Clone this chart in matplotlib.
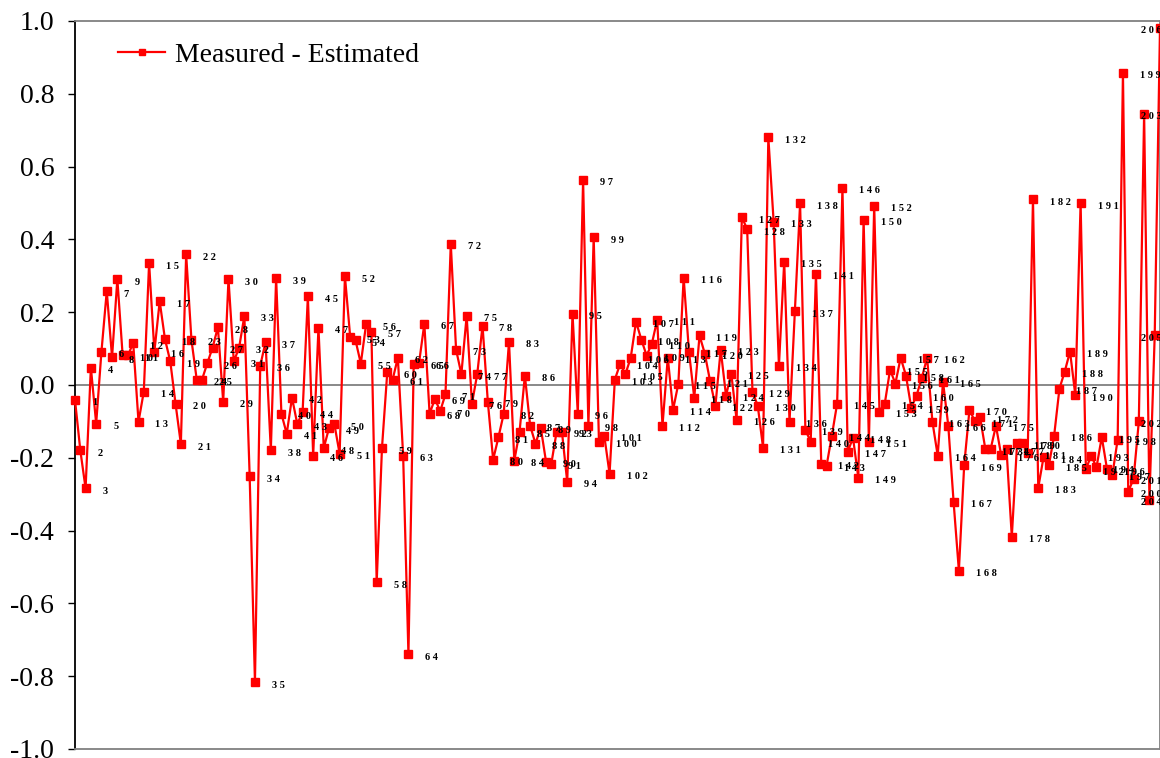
import matplotlib
matplotlib.use("Agg")
import matplotlib.pyplot as plt
import numpy as np

plt.rcParams['font.family'] = ['Liberation Serif', 'DejaVu Serif']
plt.rcParams['axes.unicode_minus'] = False

# residuals per sample (measured minus estimated), samples numbered from 1
residual = [
    -0.041, -0.179, -0.284, 0.048, -0.106, 0.092, 0.258, 0.076, 0.291, 0.082,
    0.082, 0.115, -0.101, -0.018, 0.335, 0.092, 0.230, 0.126, 0.065, -0.052,
    -0.162, 0.359, 0.124, 0.015, 0.015, 0.060, 0.103, 0.159, -0.046, 0.291,
    0.065, 0.102, 0.190, -0.250, -0.816, 0.053, 0.118, -0.179, 0.294, -0.079,
    -0.134, -0.035, -0.107, -0.075, 0.244, -0.194, 0.157, -0.173, -0.118, -0.107,
    -0.189, 0.299, 0.131, 0.123, 0.059, 0.167, 0.146, -0.542, -0.173, 0.035,
    0.014, 0.075, -0.194, -0.740, 0.058, 0.060, 0.168, -0.079, -0.038, -0.072,
    -0.025, 0.388, 0.097, 0.030, 0.190, -0.051, 0.030, 0.163, -0.046, -0.205,
    -0.144, -0.079, 0.119, -0.208, -0.128, 0.026, -0.112, -0.161, -0.117, -0.211,
    -0.216, -0.128, -0.128, -0.266, 0.196, -0.079, 0.564, -0.112, 0.406, -0.156,
    -0.139, -0.244, 0.015, 0.058, 0.030, 0.075, 0.174, 0.125, 0.081, 0.114,
    0.179, -0.112, 0.075, -0.068, 0.004, 0.295, 0.092, -0.035, 0.136, 0.086,
    0.010, -0.057, 0.097, -0.029, 0.031, -0.095, 0.461, 0.428, -0.018, -0.057,
    -0.172, 0.680, 0.449, 0.053, 0.339, -0.101, 0.202, 0.499, -0.123, -0.156,
    0.306, -0.216, -0.222, -0.139, -0.051, 0.542, -0.183, -0.145, -0.255, 0.454,
    -0.156, 0.493, -0.073, -0.051, 0.042, 0.004, 0.075, 0.026, -0.062, -0.029,
    0.020, 0.075, -0.101, -0.194, 0.009, -0.112, -0.321, -0.510, -0.221, -0.068,
    -0.099, -0.088, -0.176, -0.176, -0.112, -0.193, -0.176, -0.417, -0.160, -0.160,
    -0.188, 0.510, -0.282, -0.198, -0.221, -0.139, -0.010, 0.037, 0.092, -0.028,
    0.500, -0.231, -0.194, -0.226, -0.143, -0.232, -0.247, -0.150, 0.858, -0.293,
    -0.258, -0.100, 0.745, -0.315, 0.136, 0.981,
]
sample = np.arange(1, len(residual) + 1)
yticks = [-1.0, -0.8, -0.6, -0.4, -0.2, 0.0, 0.2, 0.4, 0.6, 0.8, 1.0]

fig = plt.figure(figsize=(11.6, 7.58), dpi=100)
ax = fig.add_axes([75 / 1160, 9 / 758, 1 - 75 / 1160, 728 / 758])

line, = ax.plot(sample, residual, color='#ff0000', lw=1.6, marker='s',
                markersize=6, markerfacecolor='#ff0000', markeredgecolor='#ff0000',
                clip_on=False, zorder=3, label='Measured - Estimated')

ax.axhline(0, color='#808080', lw=1.3, zorder=1)

# sample numbers next to each point; the last ones are pushed back inside
for n, v in zip(sample, residual):
    txt = ' '.join(str(n))
    if n >= 200:
        ax.annotate(txt, xy=(1.0, v), xycoords=ax.get_yaxis_transform(),
                    xytext=(1, -2.2), textcoords='offset points',
                    ha='right', va='center', fontsize=7.5, fontweight='bold')
    else:
        ax.annotate(txt, xy=(n, v), xytext=(12.2, -2.2),
                    textcoords='offset points', ha='left', va='center',
                    fontsize=7.5, fontweight='bold')

ax.set_xlim(1, len(residual))
ax.set_ylim(-1.0, 1.0)
ax.set_yticks(yticks)
ax.set_yticklabels([f'{t:.1f}' for t in yticks])
ax.set_xticks([])
ax.tick_params(axis='y', direction='out', length=5, width=1, pad=10,
               labelsize=20, colors='black')

ax.spines['left'].set_color('black')
ax.spines['left'].set_linewidth(1.3)
for s in ('top', 'bottom', 'right'):
    ax.spines[s].set_color('#808080')
    ax.spines[s].set_linewidth(1.3)

ax.legend(handles=[line], loc='center left',
          bbox_to_anchor=(118 / 1160, 1 - 55 / 758),
          bbox_transform=fig.transFigure, frameon=False, fontsize=20,
          handlelength=1.7, handletextpad=0.35, borderpad=0,
          borderaxespad=0, markerscale=0.8)

fig.savefig('out.png', dpi=100)
